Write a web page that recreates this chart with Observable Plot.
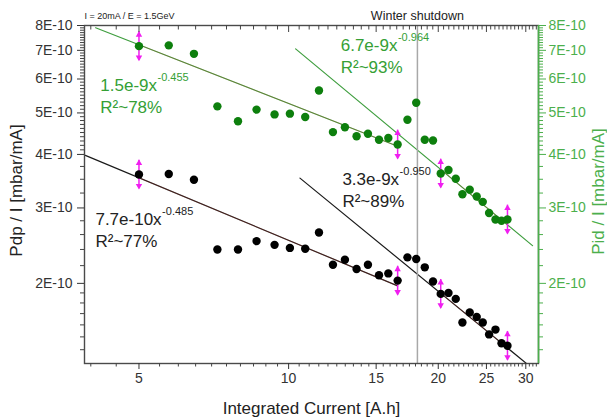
<!DOCTYPE html>
<html><head><meta charset="utf-8">
<script src="https://cdn.jsdelivr.net/npm/d3@7"></script>
<script src="https://cdn.jsdelivr.net/npm/@observablehq/plot@0.6"></script>
<style>
html,body{margin:0;padding:0;background:#fff;}
#chart svg{display:block;}
</style></head><body><div id="chart"></div>
<script>
// Integrated current [A.h]
const xValues = [5.00,5.74,6.45,7.19,7.91,8.62,9.37,10.06,10.80,11.51,12.28,12.98,13.70,14.44,15.20,15.87,16.57,17.34,18.06,18.79,19.52,20.23,20.97,21.69,22.37,23.14,23.90,24.58,25.31,26.07,26.81,27.56];
// Pid / I  [E-10 mbar/mA]  (green, right axis)
const pidValues = [7.16,7.19,6.87,5.18,4.78,5.09,4.96,4.98,4.89,5.64,4.51,4.63,4.41,4.47,4.33,4.37,4.22,4.82,5.28,4.33,4.31,3.61,3.68,3.51,3.23,3.31,3.19,3.10,2.92,2.82,2.80,2.82];
// Pdp / I  [E-10 mbar/mA]  (black, left axis)
const pdpValues = [3.59,3.60,3.49,2.40,2.40,2.51,2.46,2.42,2.41,2.63,2.21,2.27,2.16,2.21,2.09,2.11,2.03,2.30,2.28,2.18,2.02,1.89,1.90,1.84,1.62,1.71,1.67,1.62,1.52,1.56,1.45,1.43];
// points carrying the magenta error arrows
const markedIdx = [0, 16, 21, 31];
const errFactor = 1.08;
const shutdownX = [18.16];

// axes
const xDomain = [3.885, 31.82];
const yDomain = [1.30, 8.0];
const xMajor = [5, 10, 15, 20, 25, 30];
const xMinor = [4,4.5,5.5,6,6.5,7,7.5,8,8.5,9,9.5,10.5,11,11.5,12,12.5,13,13.5,14,14.5,15.5,16,16.5,17,17.5,18,18.5,19,19.5,20.5,21,21.5,22,22.5,23,23.5,24,24.5,25.5,26,26.5,27,27.5,28,28.5,29,29.5,30.5,31,31.5];
const yMajor = [2, 3, 4, 5, 6, 7, 8];
const yMinor = [1.4,1.5,1.6,1.7,1.8,1.9,2.2,2.4,2.6,2.8,3.25,3.5,3.75,
  4.1,4.2,4.3,4.4,4.5,4.6,4.7,4.8,4.9,5.1,5.2,5.3,5.4,5.5,5.6,5.7,5.8,5.9,
  6.1,6.2,6.3,6.4,6.5,6.6,6.7,6.8,6.9,7.1,7.2,7.3,7.4,7.5,7.6,7.7,7.8,7.9];

// power-law fits y = a x^b, drawn from..to, data range dataFrom..dataTo
const fitA = [1.5e-9, 7.7e-10, 6.7e-9, 3.3e-9];
const fitB = [-0.455, -0.485, -0.964, -0.950];
const fitFrom = [4.09, 3.90, 10.33, 10.54];
const fitTo = [16.57, 16.57, 30.95, 30.15];
const fitDataFrom = [5.00, 5.00, 20.23, 20.23];
const fitDataTo = [16.57, 16.57, 27.56, 27.56];
const fitSeries = ["pid", "pdp", "pid", "pdp"];

// annotations
const annMain = ["1.5e-9x", "7.7e-10x", "6.7e-9x", "3.3e-9x"];
const annSup = ["-0.455", "-0.485", "-0.964", "-0.950"];
const annR2 = ["R²~78%", "R²~77%", "R²~93%", "R²~89%"];
const annX = [4.18, 4.087, 12.73, 12.83];
const annY = [5.64, 2.73, 6.96, 3.40];
const annSeries = ["pid", "pdp", "pid", "pdp"];

const topNote = "I = 20mA / E = 1.5GeV";
const shutdownLabel = "Winter shutdown";
const xTitle = "Integrated Current [A.h]";
const yLeftTitle = "Pdp / I [mbar/mA]";
const yRightTitle = "Pid / I [mbar/mA]";

const FONT = "'Liberation Sans', Arial, sans-serif";
const dotColor = {pid: "#0d7f0d", pdp: "#000000"};
const lineColor = {pid: "#3f9e3f", pdp: "#1a1a1a"};
const textColor = {pid: "#35a035", pdp: "#222222"};
const greenAxis = "#4caf4c";
const magenta = "#f01ef0";

const pts = xValues.map((x, i) => ({x, pid: pidValues[i], pdp: pdpValues[i], i}));
const marked = pts.filter(d => markedIdx.includes(d.i));
const magentaPts = marked.flatMap(d => [{x: d.x, y: d.pid}, {x: d.x, y: d.pdp}]);

const ctx = document.createElement("canvas").getContext("2d");
function textWidth(s, size) { ctx.font = `${size}px ${FONT}`; return ctx.measureText(s).width; }

const fitMarks = fitA.flatMap((a, k) => {
  const f = x => a * Math.pow(x, fitB[k]) * 1e10;
  const full = [fitFrom[k], fitTo[k]].map(x => ({x, y: f(x)}));
  const dataPart = [fitDataFrom[k], fitDataTo[k]].map(x => ({x, y: f(x)}));
  return [
    Plot.line(full, {x: "x", y: "y", stroke: lineColor[fitSeries[k]], strokeWidth: 1.2, clip: true}),
    Plot.line(dataPart, {x: "x", y: "y", stroke: "#c03020", strokeOpacity: 0.28, strokeWidth: 1, clip: true})
  ];
});

const annMarks = annMain.flatMap((m, k) => {
  const d = [{x: annX[k], y: annY[k]}];
  const col = textColor[annSeries[k]];
  return [
    Plot.text(d, {x: "x", y: "y", text: () => m, textAnchor: "start", lineAnchor: "bottom", fontSize: 17, fill: col}),
    Plot.text(d, {x: "x", y: "y", text: () => annSup[k], textAnchor: "start", lineAnchor: "bottom", fontSize: 11, fill: col, dx: textWidth(m, 17) + 0.5, dy: -10}),
    Plot.text(d, {x: "x", y: "y", text: () => annR2[k], textAnchor: "start", lineAnchor: "bottom", fontSize: 17, fill: col, dy: 22})
  ];
});

const frameH = 418 - 25 - 55;

const chart = Plot.plot({
  width: 607, height: 418,
  marginLeft: 84, marginRight: 69, marginTop: 25, marginBottom: 55,
  x: {type: "log", domain: xDomain, axis: null, label: null},
  y: {type: "log", domain: yDomain, axis: null, label: null},
  style: {fontFamily: FONT, fontSize: "14px", background: "#fff", color: "#222"},
  marks: [
    ...fitMarks,
    Plot.ruleX(shutdownX, {stroke: "#a8a8a8", strokeWidth: 1.5}),
    Plot.ruleX(magentaPts, {x: "x", y1: d => d.y / errFactor, y2: d => d.y * errFactor, stroke: magenta, strokeWidth: 1.5}),
    Plot.dot(magentaPts, {x: "x", y: d => d.y * errFactor, symbol: "triangle", r: 2.4, fill: magenta, stroke: "none", dy: 3}),
    Plot.dot(magentaPts, {x: "x", y: d => d.y / errFactor, symbol: "triangle", rotate: 180, r: 2.4, fill: magenta, stroke: "none", dy: -3}),
    Plot.dot(pts, {x: "x", y: "pid", r: 4.2, fill: dotColor.pid, stroke: "none"}),
    Plot.dot(pts, {x: "x", y: "pdp", r: 4.2, fill: dotColor.pdp, stroke: "none"}),
    ...annMarks,
    // frame & axes
    Plot.frame({stroke: "#4a4a4a", strokeWidth: 1.4}),
    Plot.ruleX([xDomain[1]], {stroke: greenAxis, strokeWidth: 1.6}),
    Plot.axisY(yMajor, {anchor: "left", tickSize: 7, tickPadding: 5, tickFormat: d => `${d}E-10`, fontSize: 14, color: "#333", label: null}),
    Plot.axisY(yMinor, {anchor: "left", tickSize: 4, fill: "none", stroke: "#444", label: null}),
    Plot.axisY(yMajor, {anchor: "right", tickSize: 7, tickPadding: 3, tickFormat: d => `${d}E-10`, fontSize: 14, color: greenAxis, label: null}),
    Plot.axisY(yMinor, {anchor: "right", tickSize: 4, fill: "none", stroke: greenAxis, label: null}),
    Plot.axisX(xMajor, {anchor: "bottom", tickSize: 6, tickPadding: 4, tickFormat: d => String(d), fontSize: 14, color: "#333", label: null}),
    Plot.axisX(xMinor, {anchor: "bottom", tickSize: 3.5, fill: "none", stroke: "#444", label: null}),
    Plot.ruleX(xMajor, {stroke: "#444", insetBottom: frameH - 7}),
    Plot.ruleX(xMinor, {stroke: "#444", insetBottom: frameH - 4.5}),
    // titles
    Plot.text([topNote], {frameAnchor: "top-left", text: d => d, textAnchor: "start", lineAnchor: "bottom", dy: -7, fontSize: 9, fill: "#222"}),
    Plot.text(shutdownX, {x: d => d, frameAnchor: "top", text: () => shutdownLabel, textAnchor: "middle", lineAnchor: "bottom", dy: -6, fontSize: 12.5, fill: "#222"}),
    Plot.text([xTitle], {frameAnchor: "bottom", text: d => d, textAnchor: "middle", lineAnchor: "bottom", dy: 50, fontSize: 17, fill: "#222"}),
    Plot.text([yLeftTitle], {frameAnchor: "left", text: d => d, rotate: -90, textAnchor: "middle", lineAnchor: "bottom", dx: -63, dy: -4, fontSize: 17, fill: "#222"}),
    Plot.text([yRightTitle], {frameAnchor: "right", text: d => d, rotate: -90, textAnchor: "middle", lineAnchor: "bottom", dx: 65, dy: -3, fontSize: 17, fill: greenAxis})
  ]
});
document.getElementById("chart").appendChild(chart);
</script>
</body></html>
